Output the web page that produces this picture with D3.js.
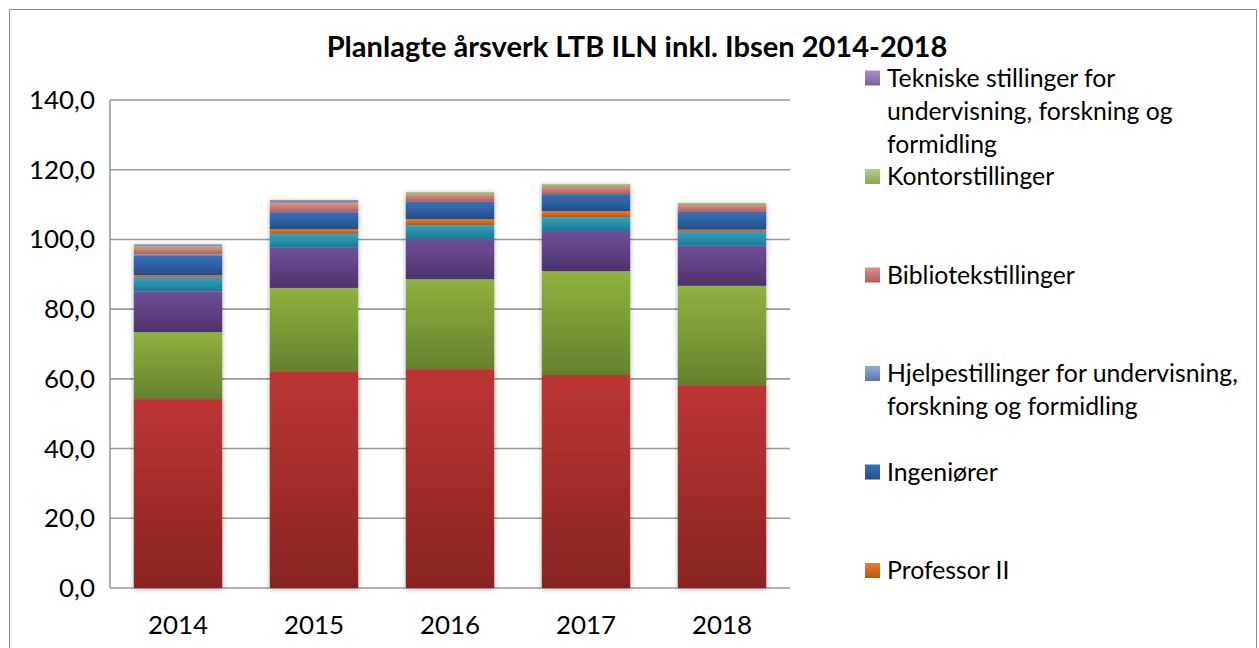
<!DOCTYPE html>
<html>
<head>
<meta charset="utf-8">
<script src="https://cdnjs.cloudflare.com/ajax/libs/d3/7.8.5/d3.min.js"></script>
<style>
  html, body { margin: 0; padding: 0; background: #fff; }
  svg { display: block; font-family: Lato, "Open Sans", sans-serif; }
</style>
</head>
<body>
<svg id="chart" width="1259" height="648"></svg>
<script>
const years = ["2014", "2015", "2016", "2017", "2018"];

// series, bottom to top of the stack
const seriesKeys = ["vit", "stip", "postdok", "forsker", "prof2", "ing", "hjelpe", "bibl", "kontor", "tekn"];
const vit     = [54.2, 62.2, 62.8, 61.1, 58.2];
const stip    = [19.2, 23.9, 25.8, 29.8, 28.5];
const postdok = [11.7, 11.5, 11.5, 11.5, 11.5];
const forsker = [4.0, 4.0, 4.0, 4.0, 4.0];
const prof2   = [0.6, 1.3, 1.7, 1.7, 0.6];
const ing     = [5.7, 4.9, 5.0, 4.9, 5.1];
const hjelpe  = [0.3, 0.1, 0.0, 0.0, 0.0];
const bibl    = [1.9, 2.3, 2.1, 2.1, 2.0];
const kontor  = [0.6, 0.4, 0.7, 0.8, 0.6];
const tekn    = [0.4, 0.7, 0.0, 0.0, 0.0];

// gradient colours per series [top, bottom]
const colors = {
  vit:     ["#bd3633", "#882421"],
  stip:    ["#8fb240", "#64822c"],
  postdok: ["#70509a", "#4c336b"],
  forsker: ["#32a4c5", "#1e7890"],
  prof2:   ["#ee7d26", "#b35815"],
  ing:     ["#3672bb", "#244e87"],
  hjelpe:  ["#90abd9", "#5a76a7"],
  bibl:    ["#de8d8b", "#ab5f5d"],
  kontor:  ["#b5cf86", "#86a35b"],
  tekn:    ["#a792c6", "#76639b"]
};

// legend shows the top six series, top first
const legendKeys = ["tekn", "kontor", "bibl", "hjelpe", "ing", "prof2"];
const legendLines = [
  ["Tekniske stillinger for", "undervisning, forskning og", "formidling"],
  ["Kontorstillinger"],
  ["Bibliotekstillinger"],
  ["Hjelpestillinger for undervisning,", "forskning og formidling"],
  ["Ingeniører"],
  ["Professor II"]
];
const yTicks = [0, 20, 40, 60, 80, 100, 120, 140];
const title = "Planlagte årsverk LTB ILN inkl. Ibsen 2014-2018";

const raw = { vit, stip, postdok, forsker, prof2, ing, hjelpe, bibl, kontor, tekn };
const rows = years.map((y, i) => {
  const r = { year: y };
  seriesKeys.forEach(k => r[k] = raw[k][i]);
  return r;
});

const svg = d3.select("#chart");
const defs = svg.append("defs");

// fits a font size so that a sample string has the given width
function fitSize(sample, targetW, weight) {
  const t = svg.append("text").attr("font-size", 100).attr("font-weight", weight || "normal").text(sample);
  const w = t.node().getComputedTextLength();
  t.remove();
  return 100 * targetW / w;
}

seriesKeys.forEach(k => {
  const g = defs.append("linearGradient").attr("id", "grad-" + k)
    .attr("x1", 0).attr("y1", 0).attr("x2", 0).attr("y2", 1);
  g.append("stop").attr("offset", "0%").attr("stop-color", colors[k][0]);
  g.append("stop").attr("offset", "100%").attr("stop-color", colors[k][1]);
});
const shadow = defs.append("filter").attr("id", "shadow")
  .attr("x", "-20%").attr("y", "-5%").attr("width", "140%").attr("height", "110%");
shadow.append("feDropShadow").attr("dx", 0).attr("dy", 1).attr("stdDeviation", 2.6)
  .attr("flood-color", "#000").attr("flood-opacity", 0.32);

// outer frame
svg.append("path").attr("d", "M9.5,660 V9.5 H1256.5 V660")
  .attr("fill", "none").attr("stroke", "#8a8a8a").attr("stroke-width", 1);

const x = d3.scaleBand().domain(years).range([110, 790]).paddingInner(0.35).paddingOuter(0.175);
const y = d3.scaleLinear().domain([0, 140]).range([588, 100]);

const locale = d3.formatLocale({ decimal: ",", thousands: " ", grouping: [3], currency: ["", " kr"] });
const fmt = locale.format(".1f");

// gridlines
svg.append("g").selectAll("line").data(yTicks.filter(d => d > 0)).join("line")
  .attr("x1", 110).attr("x2", 790)
  .attr("y1", d => y(d)).attr("y2", d => y(d))
  .attr("stroke", "#9a9a9a").attr("stroke-width", 1.6);

// y axis line and baseline
svg.append("line").attr("x1", 110).attr("x2", 110).attr("y1", y(140)).attr("y2", y(0))
  .attr("stroke", "#9a9a9a").attr("stroke-width", 1.6);
svg.append("line").attr("x1", 110).attr("x2", 790).attr("y1", y(0)).attr("y2", y(0))
  .attr("stroke", "#9a9a9a").attr("stroke-width", 1.6);

// stacked bars
const stacked = d3.stack().keys(seriesKeys)(rows);
const barGroups = svg.append("g").selectAll("g").data(years).join("g")
  .attr("filter", "url(#shadow)");
barGroups.each(function(yr, i) {
  const g = d3.select(this);
  stacked.forEach(layer => {
    const d = layer[i];
    if (d[1] - d[0] <= 0) return;
    g.append("rect")
      .attr("x", x(yr))
      .attr("width", x.bandwidth())
      .attr("y", y(d[1]))
      .attr("height", y(d[0]) - y(d[1]))
      .attr("fill", `url(#grad-${layer.key})`);
  });
});

// y tick labels
const tickSize = fitSize("140,0", 66);
svg.append("g").selectAll("text").data(yTicks).join("text")
  .attr("x", 95).attr("y", d => y(d))
  .attr("dy", "0.35em")
  .attr("text-anchor", "end")
  .attr("font-size", tickSize)
  .attr("fill", "#000")
  .text(d => fmt(d));

// x labels
svg.append("g").selectAll("text").data(years).join("text")
  .attr("x", d => x(d) + x.bandwidth() / 2)
  .attr("y", 625)
  .attr("dy", "0.35em")
  .attr("text-anchor", "middle")
  .attr("font-size", tickSize)
  .attr("fill", "#000")
  .text(d => d);

// title
svg.append("text")
  .attr("x", 637).attr("y", 47).attr("dy", "0.35em")
  .attr("text-anchor", "middle")
  .attr("font-weight", "bold")
  .attr("font-size", fitSize(title, 621, "bold"))
  .attr("fill", "#000")
  .text(title);

// legend
const legSize = fitSize("Hjelpestillinger for undervisning,", 351);
const leg = svg.append("g").selectAll("g").data(legendKeys).join("g")
  .attr("transform", (d, i) => `translate(865, ${78 + 98.5 * i})`);
leg.append("rect")
  .attr("x", 0).attr("y", -7.5).attr("width", 15).attr("height", 15)
  .attr("fill", d => `url(#grad-${d})`);
leg.each(function(k, i) {
  d3.select(this).selectAll("text").data(legendLines[i]).join("text")
    .attr("x", 22)
    .attr("y", (d, j) => j * 33)
    .attr("dy", "0.35em")
    .attr("font-size", legSize)
    .attr("fill", "#000")
    .text(d => d);
});
</script>
</body>
</html>
